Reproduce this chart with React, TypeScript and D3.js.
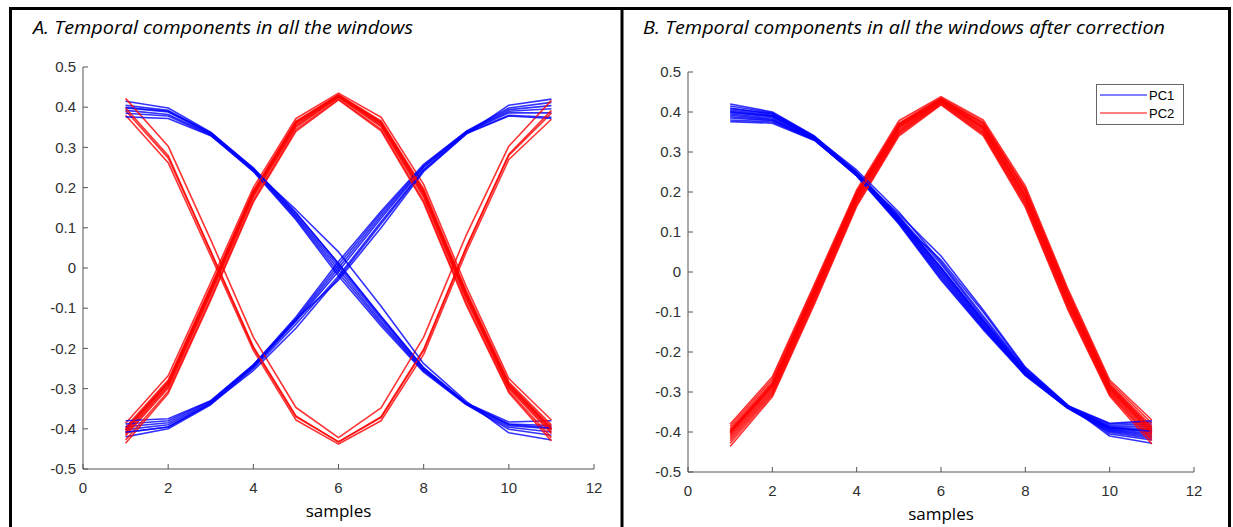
import React from "react";
import * as d3 from "d3";

// Sample index along the window
const samples = [1, 2, 3, 4, 5, 6, 7, 8, 9, 10, 11];

// First temporal component (PC1) of every window, sign-corrected
const pc1Windows: number[][] = [
  [0.420, 0.400, 0.340, 0.250, 0.140, 0.020, -0.115, -0.245, -0.335, -0.380, -0.375],
  [0.415, 0.398, 0.338, 0.248, 0.136, 0.012, -0.120, -0.248, -0.336, -0.383, -0.380],
  [0.410, 0.395, 0.337, 0.247, 0.133, 0.008, -0.124, -0.250, -0.337, -0.386, -0.386],
  [0.405, 0.392, 0.336, 0.246, 0.131, 0.004, -0.127, -0.251, -0.337, -0.388, -0.392],
  [0.402, 0.390, 0.335, 0.245, 0.130, 0.000, -0.130, -0.252, -0.338, -0.390, -0.396],
  [0.398, 0.388, 0.334, 0.244, 0.128, -0.004, -0.133, -0.254, -0.338, -0.392, -0.400],
  [0.395, 0.385, 0.333, 0.243, 0.126, -0.008, -0.136, -0.255, -0.339, -0.394, -0.404],
  [0.392, 0.382, 0.332, 0.242, 0.124, -0.012, -0.138, -0.256, -0.339, -0.396, -0.408],
  [0.388, 0.380, 0.331, 0.241, 0.122, -0.016, -0.141, -0.258, -0.340, -0.398, -0.412],
  [0.385, 0.378, 0.330, 0.240, 0.120, -0.020, -0.144, -0.259, -0.340, -0.401, -0.416],
  [0.380, 0.375, 0.330, 0.241, 0.128, 0.030, -0.100, -0.240, -0.333, -0.405, -0.420],
  [0.376, 0.372, 0.329, 0.243, 0.145, 0.040, -0.095, -0.238, -0.332, -0.410, -0.428],
  [0.408, 0.396, 0.338, 0.255, 0.150, 0.025, -0.110, -0.243, -0.334, -0.378, -0.372],
  [0.400, 0.390, 0.336, 0.249, 0.138, 0.010, -0.122, -0.249, -0.336, -0.389, -0.398],
];

// Second temporal component (PC2) of every window, sign-corrected
const pc2Windows: number[][] = [
  [-0.380, -0.262, -0.030, 0.205, 0.378, 0.438, 0.380, 0.215, -0.040, -0.270, -0.370],
  [-0.386, -0.268, -0.036, 0.200, 0.372, 0.435, 0.375, 0.208, -0.046, -0.275, -0.378],
  [-0.392, -0.274, -0.042, 0.196, 0.368, 0.433, 0.370, 0.202, -0.052, -0.280, -0.385],
  [-0.396, -0.279, -0.046, 0.192, 0.365, 0.431, 0.366, 0.197, -0.057, -0.284, -0.390],
  [-0.400, -0.283, -0.050, 0.189, 0.362, 0.430, 0.363, 0.192, -0.062, -0.288, -0.395],
  [-0.404, -0.287, -0.054, 0.186, 0.359, 0.428, 0.360, 0.188, -0.066, -0.291, -0.399],
  [-0.408, -0.291, -0.058, 0.183, 0.356, 0.427, 0.357, 0.184, -0.070, -0.294, -0.403],
  [-0.412, -0.295, -0.062, 0.180, 0.353, 0.426, 0.354, 0.180, -0.074, -0.297, -0.407],
  [-0.417, -0.299, -0.066, 0.176, 0.350, 0.424, 0.351, 0.176, -0.078, -0.300, -0.412],
  [-0.422, -0.303, -0.070, 0.172, 0.347, 0.422, 0.348, 0.172, -0.082, -0.303, -0.417],
  [-0.428, -0.307, -0.075, 0.168, 0.344, 0.420, 0.345, 0.167, -0.087, -0.306, -0.422],
  [-0.436, -0.312, -0.080, 0.164, 0.340, 0.418, 0.341, 0.162, -0.092, -0.310, -0.430],
  [-0.398, -0.280, -0.040, 0.198, 0.370, 0.432, 0.372, 0.205, -0.050, -0.283, -0.392],
  [-0.402, -0.285, -0.052, 0.190, 0.363, 0.429, 0.362, 0.190, -0.064, -0.289, -0.401],
];

// Sign of each window's components before correction (-1 = flipped)
const pc1SignRaw = [-1, 1, -1, 1, -1, 1, -1, 1, -1, 1, -1, 1, -1, 1];
const pc2SignRaw = [-1, 1, -1, 1, 1, 1, 1, 1, 1, -1, 1, 1, -1, 1];

const xTicks = [0, 2, 4, 6, 8, 10, 12];
const yTicks = [0.5, 0.4, 0.3, 0.2, 0.1, 0, -0.1, -0.2, -0.3, -0.4, -0.5];
const legendLabels = ["PC1", "PC2"];

const BLUE = "#0000ff";
const RED = "#ff0000";
const AXIS = "#555555";
const TICK_TEXT = "#303030";

type PanelProps = {
  title: string;
  titleX: number;
  titleWidth: number;
  left: number;
  right: number;
  top: number;
  bottom: number;
  pc1Sign: number[];
  pc2Sign: number[];
  legend?: boolean;
};

function Panel(p: PanelProps) {
  const x = d3.scaleLinear().domain([0, 12]).range([p.left, p.right]);
  const y = d3.scaleLinear().domain([-0.5, 0.5]).range([p.bottom, p.top]);
  const line = d3
    .line<number>()
    .x((_, i) => x(samples[i]))
    .y((v) => y(v));

  const traces: React.ReactNode[] = [];
  pc1Windows.forEach((w, k) => {
    const s1 = p.pc1Sign[k];
    const s2 = p.pc2Sign[k];
    traces.push(
      <path
        key={`a${k}`}
        d={line(w.map((v) => v * s1)) || ""}
        fill="none"
        stroke={BLUE}
        strokeWidth={1.6}
        strokeOpacity={0.8}
        strokeLinejoin="round"
      />
    );
    traces.push(
      <path
        key={`b${k}`}
        d={line(pc2Windows[k].map((v) => v * s2)) || ""}
        fill="none"
        stroke={RED}
        strokeWidth={1.6}
        strokeOpacity={0.8}
        strokeLinejoin="round"
      />
    );
  });

  const tickLen = 5;
  const tickFont = { fontFamily: "'Liberation Sans', Arial, sans-serif", fontSize: "15px" };
  return (
    <g>
      <text
        x={p.titleX}
        y={34}
        fontFamily="'Open Sans', 'Liberation Sans', sans-serif"
        fontStyle="italic"
        fontSize={18}
        fill="#000"
        textLength={p.titleWidth}
        lengthAdjust="spacingAndGlyphs"
      >
        {p.title}
      </text>

      {/* y axis */}
      <line x1={p.left} x2={p.left} y1={p.top} y2={p.bottom} stroke={AXIS} strokeWidth={1} />
      {yTicks.map((t) => (
        <g key={`y${t}`}>
          <line x1={p.left} x2={p.left + tickLen} y1={y(t)} y2={y(t)} stroke={AXIS} strokeWidth={1} />
          <text
            x={p.left - 7}
            y={y(t)}
            dy="0.35em"
            textAnchor="end"
            style={tickFont}
            fill={TICK_TEXT}
          >
            {String(t)}
          </text>
        </g>
      ))}

      {/* x axis */}
      <line x1={p.left} x2={p.right} y1={p.bottom} y2={p.bottom} stroke={AXIS} strokeWidth={1} />
      {xTicks.map((t) => (
        <g key={`x${t}`}>
          <line x1={x(t)} x2={x(t)} y1={p.bottom} y2={p.bottom - tickLen} stroke={AXIS} strokeWidth={1} />
          <text
            x={x(t)}
            y={p.bottom + 19}
            dy="0.35em"
            textAnchor="middle"
            style={tickFont}
            fill={TICK_TEXT}
          >
            {String(t)}
          </text>
        </g>
      ))}
      <text
        x={(p.left + p.right) / 2}
        y={p.bottom + 42}
        dy="0.35em"
        textAnchor="middle"
        fontFamily="'Open Sans', 'Liberation Sans', sans-serif"
        fontSize={17}
        fill="#000"
      >
        samples
      </text>

      <g>{traces}</g>

      {p.legend && (
        <g>
          <rect x={1096.5} y={84.5} width={87} height={40} fill="#fff" stroke="#666" strokeWidth={1} />
          {legendLabels.map((lab, i) => (
            <g key={lab}>
              <line
                x1={1100}
                x2={1147}
                y1={95 + i * 18}
                y2={95 + i * 18}
                stroke={i === 0 ? BLUE : RED}
                strokeWidth={1}
              />
              <text
                x={1149}
                y={95 + i * 18}
                dy="0.35em"
                style={{ fontFamily: "'Liberation Sans', Arial, sans-serif", fontSize: "13px" }}
                fill="#000"
              >
                {lab}
              </text>
            </g>
          ))}
        </g>
      )}
    </g>
  );
}

export default function App() {
  const ones = pc1Windows.map(() => 1);
  return (
    <svg
      width={1233}
      height={527}
      style={{ position: "absolute", left: 0, top: 0, display: "block", background: "#fff" }}
    >
      <rect x={0} y={0} width={1233} height={527} fill="#fff" />
      <Panel
        title="A. Temporal components in all the windows"
        titleX={33}
        titleWidth={380}
        left={83}
        right={594}
        top={67}
        bottom={469}
        pc1Sign={pc1SignRaw}
        pc2Sign={pc2SignRaw}
      />
      <Panel
        title="B. Temporal components in all the windows after correction"
        titleX={643}
        titleWidth={522}
        left={688}
        right={1194}
        top={72}
        bottom={472}
        pc1Sign={ones}
        pc2Sign={ones}
        legend
      />
      {/* panel frames */}
      <rect x={10.5} y={8.5} width={1219} height={540} fill="none" stroke="#000" strokeWidth={3} />
      <line x1={622} x2={622} y1={8} y2={527} stroke="#000" strokeWidth={3} />
    </svg>
  );
}
